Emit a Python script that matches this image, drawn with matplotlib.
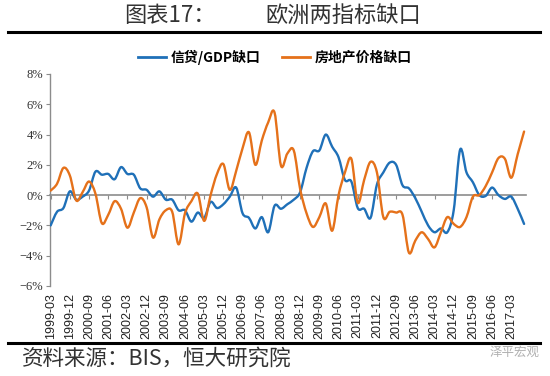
import matplotlib
matplotlib.use("Agg")
import matplotlib.pyplot as plt
from matplotlib.path import Path
from matplotlib.patches import PathPatch
from matplotlib.lines import Line2D
import numpy as np

plt.rcParams['font.family'] = ['Noto Sans CJK SC', 'DejaVu Sans']

# quarterly data, 1999-03 .. 2017-09 (75 quarters), units: %
credit_gap = [-2.0, -1.1, -0.85, 0.25, -0.3, -0.1, 0.3, 1.55, 1.35, 1.4,
              1.05, 1.85, 1.4, 1.35, 0.45, 0.35, -0.1, 0.25, -0.3, -0.3,
              -1.0, -1.0, -1.75, -1.15, -1.5, -0.45, -0.85, -0.6, -0.1, 0.5,
              -1.2, -1.5, -2.2, -1.45, -2.45, -0.7, -0.9, -0.6, -0.3, 0.2,
              1.8, 2.9, 2.95, 4.0, 3.2, 2.5, 1.0, 0.9, -0.85, -0.9,
              -1.5, 0.7, 1.5, 2.15, 2.0, 0.65, 0.45, -0.2, -1.1, -2.0,
              -2.45, -2.2, -2.45, -1.0, 3.0, 1.5, 0.85, 0.0, -0.05, 0.5,
              0.0, -0.25, -0.1, -0.9, -1.9]
house_gap = [0.3, 0.75, 1.8, 1.3, -0.35, 0.2, 0.9, 0.1, -1.85, -1.3,
             -0.4, -0.9, -2.15, -1.15, -0.2, -0.8, -2.8, -1.6, -1.0, -1.1,
             -3.25, -1.2, -0.4, 0.1, -1.7, 0.0, 1.4, 2.05, 0.35, 1.6,
             3.1, 4.15, 2.0, 3.6, 4.8, 5.45, 1.95, 2.75, 2.95, 0.4,
             -1.2, -2.1, -1.45, -0.55, -2.35, 0.0, 1.5, 2.4, -0.5, 1.0,
             2.2, 1.5, -1.45, -1.1, -1.15, -1.3, -3.8, -3.0, -2.45, -2.9,
             -3.45, -2.45, -1.45, -1.9, -2.1, -1.45, -0.1, 0.0, 0.6, 1.5,
             2.45, 2.4, 1.15, 2.7, 4.2]
tick_labels = ['1999-03', '1999-12', '2000-09', '2001-06', '2002-03', '2002-12',
               '2003-09', '2004-06', '2005-03', '2005-12', '2006-09', '2007-06',
               '2008-03', '2008-12', '2009-09', '2010-06', '2011-03', '2011-12',
               '2012-09', '2013-06', '2014-03', '2014-12', '2015-09', '2016-06',
               '2017-03']
series_names = ['信贷/GDP缺口', '房地产价格缺口']
blue = '#1f70b8'
orange = '#e5711a'
grey = '#8c8c8c'


def smooth_path(y):
    # excel-like smoothed line: cubic bezier segments through each point
    x = np.arange(len(y), dtype=float)
    y = np.asarray(y, dtype=float)
    verts = [(x[0], y[0])]
    codes = [Path.MOVETO]
    n = len(y)
    for k in range(n - 1):
        k0 = max(k - 1, 0)
        k3 = min(k + 2, n - 1)
        c1 = (x[k] + (x[k + 1] - x[k0]) / 6, y[k] + (y[k + 1] - y[k0]) / 6)
        c2 = (x[k + 1] - (x[k3] - x[k]) / 6, y[k + 1] - (y[k3] - y[k]) / 6)
        verts += [c1, c2, (x[k + 1], y[k + 1])]
        codes += [Path.CURVE4] * 3
    return Path(verts, codes)


W, H = 550, 376
fig = plt.figure(figsize=(W / 100, H / 100), dpi=100)
ax = fig.add_axes([50 / W, 1 - 286 / H, 476 / W, 212 / H])

for data, col in [(credit_gap, blue), (house_gap, orange)]:
    ax.add_patch(PathPatch(smooth_path(data), fill=False, edgecolor=col,
                           lw=1.7, capstyle='round', joinstyle='round', zorder=3))

ax.set_xlim(-0.1, 74.3)
ax.set_ylim(-6, 8)
ax.set_yticks(range(-6, 9, 2))
ax.set_yticklabels([f'{v}%' if v >= 0 else f'\u2212{-v}%' for v in range(-6, 9, 2)],
                   family='Liberation Serif', fontsize=9, color='#333333')
ax.tick_params(axis='y', direction='out', length=3, color=grey, width=0.8, pad=2)

for s in ['top', 'right']:
    ax.spines[s].set_visible(False)
ax.spines['left'].set_color(grey)
ax.spines['left'].set_linewidth(1.0)
ax.spines['bottom'].set_position(('data', 0))
ax.spines['bottom'].set_color(grey)
ax.spines['bottom'].set_linewidth(1.2)
ax.set_xticks(range(0, 75, 3))
ax.tick_params(axis='x', direction='out', length=3, color=grey, width=0.8,
               labelbottom=False)

sec = ax.secondary_xaxis('bottom')
sec.set_xticks(range(0, 75, 3))
sec.set_xticklabels(tick_labels, rotation=90, family='Liberation Sans',
                    fontsize=9, color='#222222')
sec.tick_params(length=0, pad=5)
sec.spines['bottom'].set_visible(False)

handles = [Line2D([], [], color=blue, lw=2), Line2D([], [], color=orange, lw=2)]
fig.legend(handles, series_names, loc='center', bbox_to_anchor=(0.5, 1 - 57 / H),
           ncol=2, frameon=False, handlelength=2.0, handletextpad=0.3,
           columnspacing=1.6, prop={'family': 'Noto Sans CJK SC',
                                    'weight': 'bold', 'size': 10})

fig.text(124 / W, 1 - 15 / H, '图表17：', fontsize=16, color='#333333',
         ha='left', va='center', fontweight='light')
fig.text(265 / W, 1 - 15 / H, '欧洲两指标缺口', fontsize=16, color='#333333',
         ha='left', va='center', fontweight='light')
fig.add_artist(Line2D([8 / W, 540 / W], [1 - 32 / H, 1 - 32 / H], color='black', lw=2.2))
fig.add_artist(Line2D([8 / W, 540 / W], [1 - 343 / H, 1 - 343 / H], color='black', lw=2.2))

fig.text(22 / W, 1 - 359 / H, '资料来源：BIS，恒大研究院', fontsize=15.5,
         color='#333333', ha='left', va='center', style='italic',
         fontweight='light')
fig.text(540 / W, 1 - 352 / H, '泽平宏观', fontsize=9, color='#b0b0b0',
         ha='right', va='center')

fig.savefig('out.png', dpi=100)
